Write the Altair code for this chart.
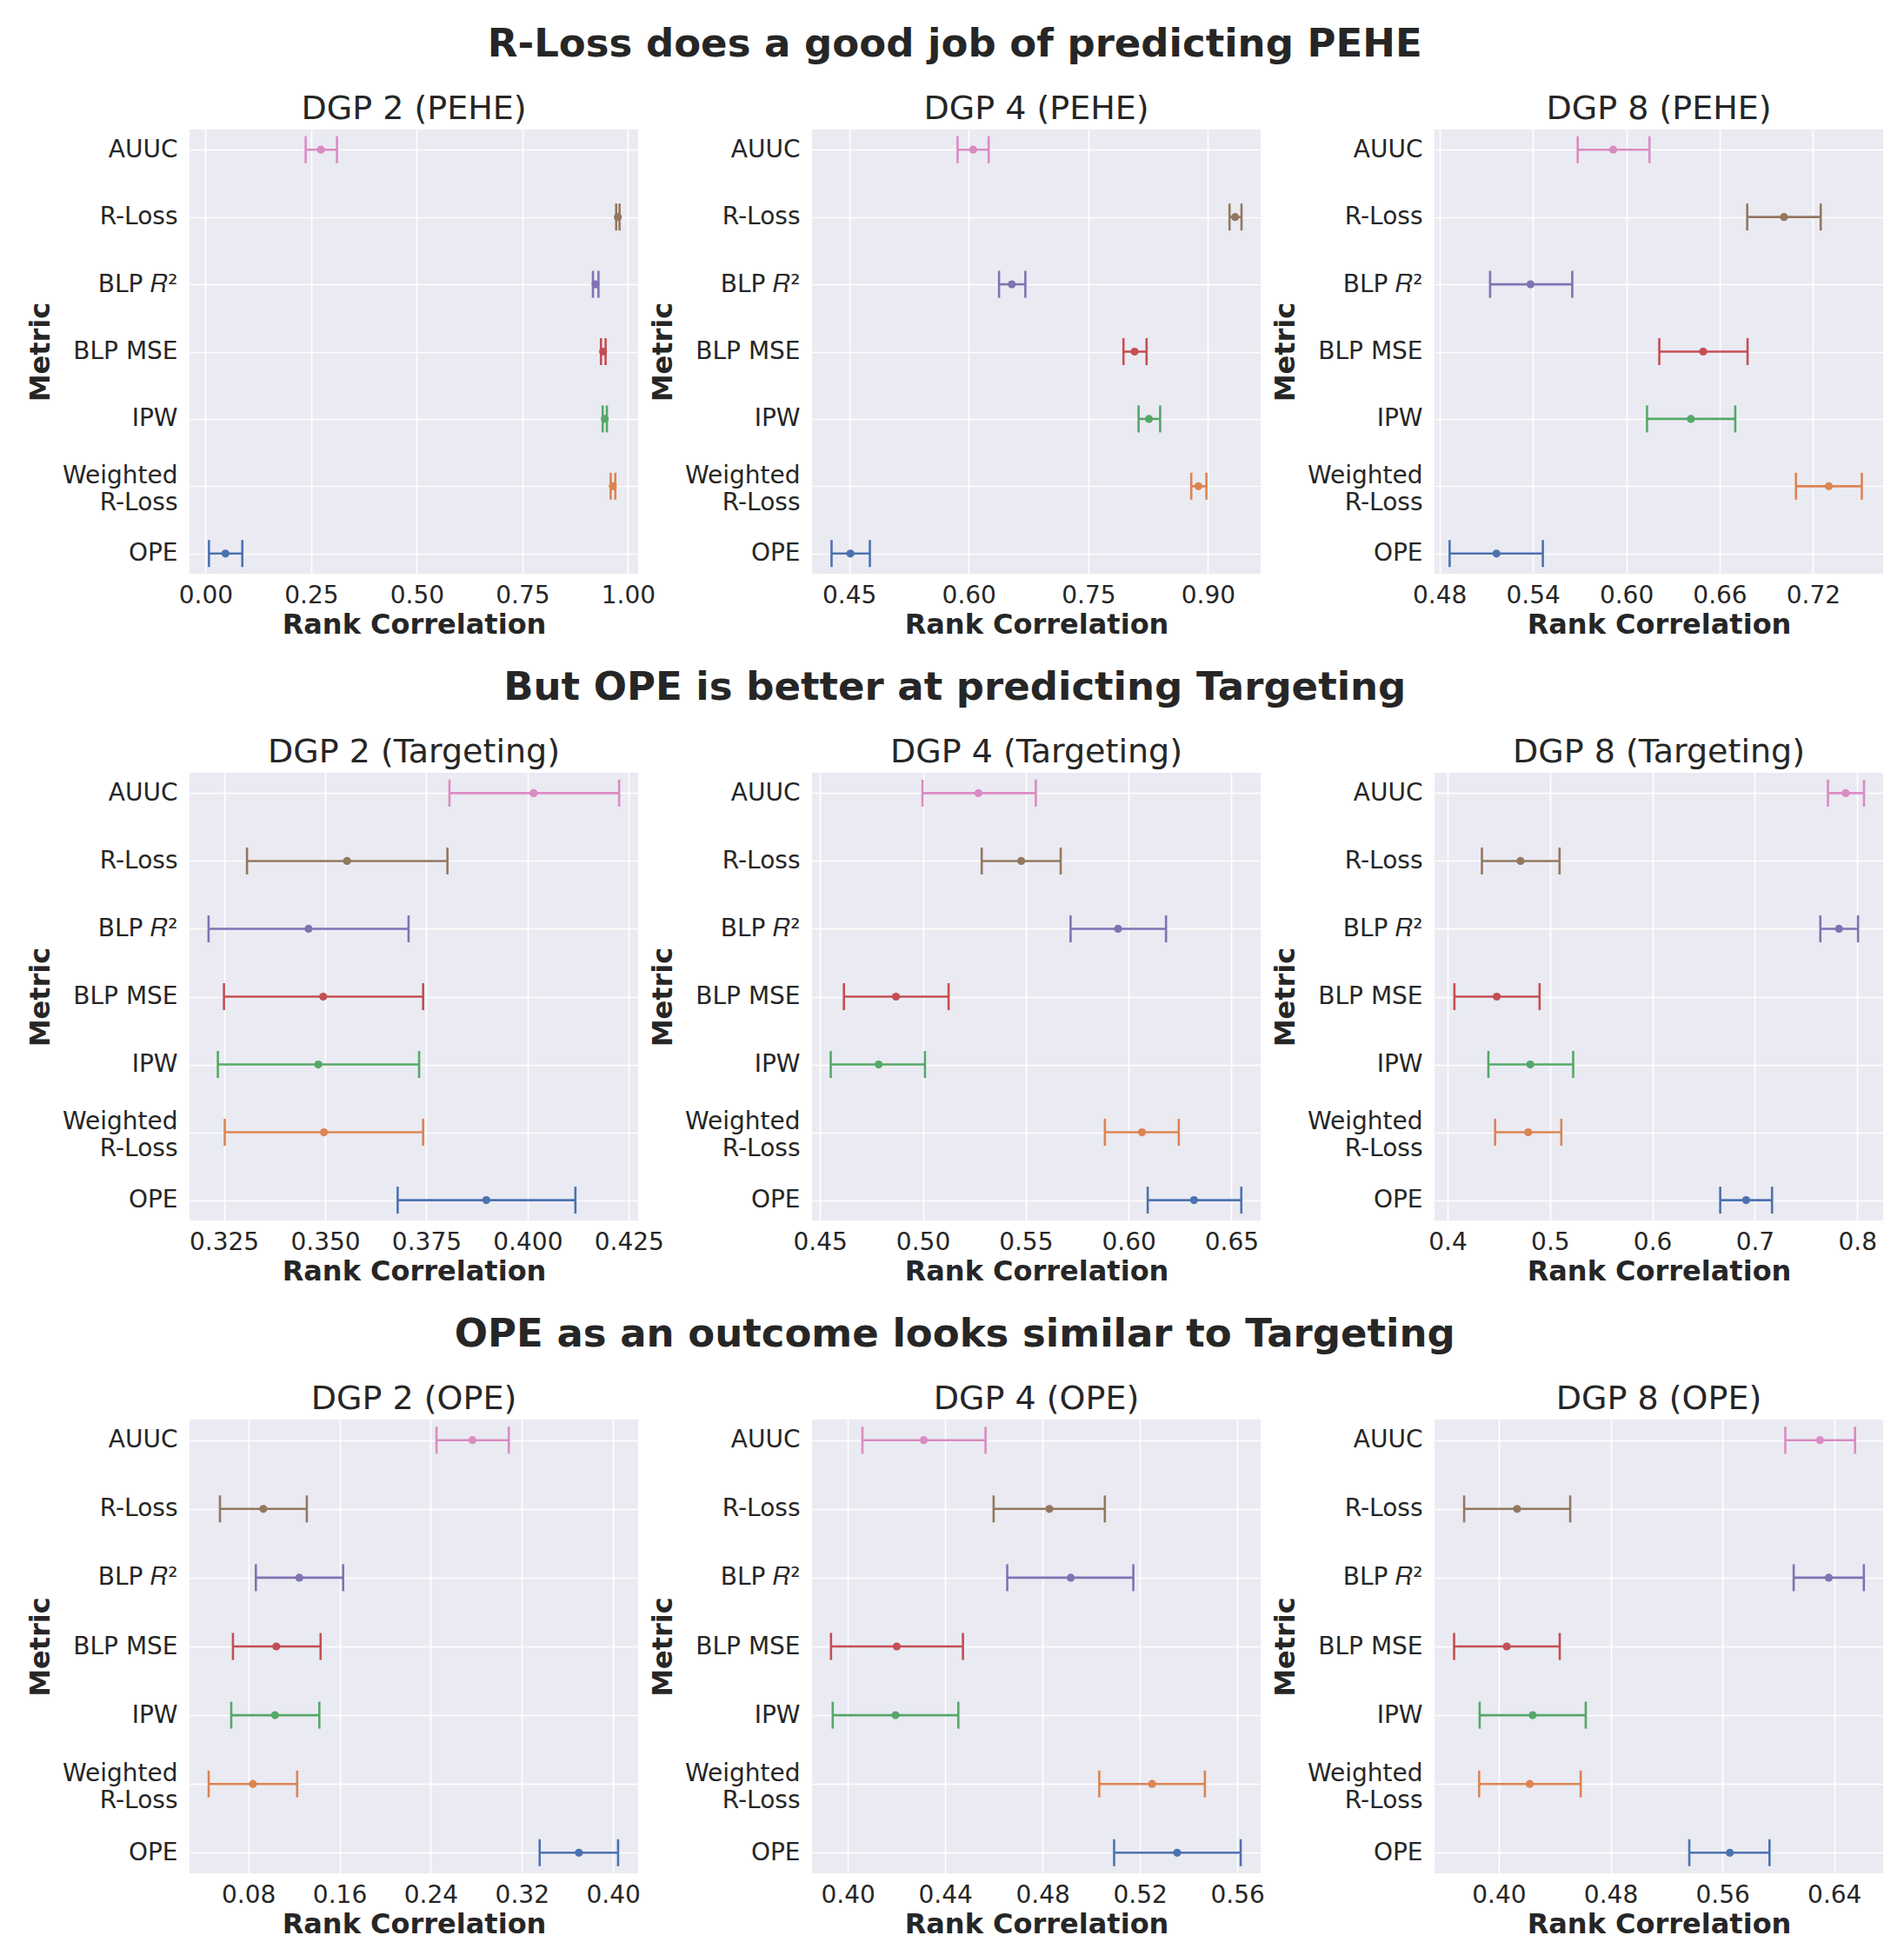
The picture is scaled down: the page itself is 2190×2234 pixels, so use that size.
import altair as alt
import pandas as pd

METRICS = ["AUUC", "R-Loss", "BLP 𝑅²", "BLP MSE", "IPW", "Weighted|R-Loss", "OPE"]
COLORS = ["#DA8BC3", "#937860", "#8172B3", "#C44E52", "#55A868", "#DD8452", "#4C72B0"]

ROW_TITLES = [
    "R-Loss does a good job of predicting PEHE",
    "But OPE is better at predicting Targeting",
    "OPE as an outcome looks similar to Targeting",
]

# ---- Row 1: PEHE ----
PEHE2_MEAN = [0.273, 0.976, 0.923, 0.941, 0.945, 0.964, 0.047]
PEHE2_LOW = [0.237, 0.972, 0.917, 0.936, 0.940, 0.959, 0.008]
PEHE2_HIGH = [0.311, 0.980, 0.930, 0.947, 0.950, 0.970, 0.087]
PEHE2_TICKS = [0.0, 0.25, 0.5, 0.75, 1.0]

PEHE4_MEAN = [0.6055, 0.934, 0.654, 0.808, 0.826, 0.888, 0.4516]
PEHE4_LOW = [0.586, 0.927, 0.638, 0.794, 0.813, 0.879, 0.428]
PEHE4_HIGH = [0.625, 0.942, 0.671, 0.823, 0.840, 0.898, 0.476]
PEHE4_TICKS = [0.45, 0.60, 0.75, 0.90]

PEHE8_MEAN = [0.5916, 0.7013, 0.5385, 0.6494, 0.6415, 0.7301, 0.5166]
PEHE8_LOW = [0.5688, 0.6777, 0.5125, 0.6212, 0.6133, 0.7090, 0.4865]
PEHE8_HIGH = [0.6149, 0.7249, 0.5653, 0.6779, 0.6700, 0.7513, 0.5464]
PEHE8_TICKS = [0.48, 0.54, 0.60, 0.66, 0.72]

# ---- Row 2: Targeting ----
TARG2_MEAN = [0.4015, 0.3554, 0.3459, 0.3495, 0.3483, 0.3497, 0.3898]
TARG2_LOW = [0.3807, 0.3307, 0.3212, 0.3250, 0.3235, 0.3252, 0.3679]
TARG2_HIGH = [0.4226, 0.3802, 0.3706, 0.3742, 0.3732, 0.3742, 0.4118]
TARG2_TICKS = [0.325, 0.350, 0.375, 0.400, 0.425]

TARG4_MEAN = [0.5270, 0.5478, 0.5949, 0.4869, 0.4785, 0.6065, 0.6318]
TARG4_LOW = [0.4998, 0.5286, 0.5718, 0.4616, 0.4552, 0.5885, 0.6093]
TARG4_HIGH = [0.5549, 0.5670, 0.6182, 0.5125, 0.5010, 0.6244, 0.6548]
TARG4_TICKS = [0.45, 0.50, 0.55, 0.60, 0.65]

TARG8_MEAN = [0.7888, 0.4712, 0.7822, 0.4480, 0.4807, 0.4787, 0.6915]
TARG8_LOW = [0.7714, 0.4335, 0.7640, 0.4066, 0.4398, 0.4464, 0.6662]
TARG8_HIGH = [0.8066, 0.5093, 0.8008, 0.4898, 0.5226, 0.5110, 0.7168]
TARG8_TICKS = [0.4, 0.5, 0.6, 0.7, 0.8]

# ---- Row 3: OPE ----
OPE2_MEAN = [0.2766, 0.0932, 0.1247, 0.1045, 0.1034, 0.0840, 0.3700]
OPE2_LOW = [0.2451, 0.0551, 0.0866, 0.0665, 0.0650, 0.0452, 0.3356]
OPE2_HIGH = [0.3085, 0.1313, 0.1632, 0.1434, 0.1423, 0.1228, 0.4044]
OPE2_TICKS = [0.08, 0.16, 0.24, 0.32, 0.40]

OPE4_MEAN = [0.4312, 0.4828, 0.4916, 0.4201, 0.4196, 0.5250, 0.5353]
OPE4_LOW = [0.4060, 0.4599, 0.4655, 0.3931, 0.3938, 0.5033, 0.5094]
OPE4_HIGH = [0.4566, 0.5056, 0.5173, 0.4473, 0.4454, 0.5467, 0.5614]
OPE4_TICKS = [0.40, 0.44, 0.48, 0.52, 0.56]

OPE8_MEAN = [0.6298, 0.4131, 0.6361, 0.4057, 0.4242, 0.4221, 0.5653]
OPE8_LOW = [0.6050, 0.3752, 0.6110, 0.3680, 0.3863, 0.3859, 0.5363]
OPE8_HIGH = [0.6549, 0.4511, 0.6612, 0.4436, 0.4622, 0.4586, 0.5937]
OPE8_TICKS = [0.40, 0.48, 0.56, 0.64]

TEXT = "#262626"
FONT = "DejaVu Sans"
PANEL_W = 516


def panel(title, mean, low, high, domain, ticks, fmt, height):
    df = pd.DataFrame({"Metric": METRICS, "mean": mean, "low": low, "high": high})
    xscale = alt.Scale(domain=domain, nice=False, zero=False)
    xaxis = alt.Axis(values=ticks, format=fmt, title="Rank Correlation")
    y = alt.Y(
        "Metric:N",
        sort=METRICS,
        scale=alt.Scale(type="point", padding=0.3),
        axis=alt.Axis(
            title="Metric",
            grid=True,
            labelExpr="split(datum.label, '|')",
            labelOffset={
                "condition": {"test": "indexof(datum.label, '|') >= 0", "value": -12},
                "value": 0,
            },
        ),
    )
    color = alt.Color("Metric:N", scale=alt.Scale(domain=METRICS, range=COLORS), legend=None)
    base = alt.Chart(df)
    rule = base.mark_rule(strokeWidth=2.6).encode(
        x=alt.X("low:Q", scale=xscale, axis=xaxis), x2="high:Q", y=y, color=color
    )
    cap_lo = base.mark_tick(thickness=2.6, size=31, opacity=1).encode(
        x=alt.X("low:Q", scale=xscale, axis=xaxis), y=y, color=color
    )
    cap_hi = base.mark_tick(thickness=2.6, size=31, opacity=1).encode(
        x=alt.X("high:Q", scale=xscale, axis=xaxis), y=y, color=color
    )
    pt = base.mark_circle(size=85, opacity=1).encode(
        x=alt.X("mean:Q", scale=xscale, axis=xaxis), y=y, color=color
    )
    return alt.layer(rule, cap_lo, cap_hi, pt).properties(
        width=PANEL_W,
        height=height,
        title=alt.TitleParams(text=title, frame="group", anchor="middle"),
    )


def row(title, panels):
    return alt.hconcat(
        *panels,
        spacing=200,
        bounds="flush",
        title=alt.TitleParams(
            text=title, fontSize=45, fontWeight="bold", anchor="middle", font=FONT, color=TEXT, offset=33
        ),
    )


row1 = row(ROW_TITLES[0], [
    panel("DGP 2 (PEHE)", PEHE2_MEAN, PEHE2_LOW, PEHE2_HIGH, [-0.038, 1.024], PEHE2_TICKS, ".2f", 511),
    panel("DGP 4 (PEHE)", PEHE4_MEAN, PEHE4_LOW, PEHE4_HIGH, [0.4035, 0.966], PEHE4_TICKS, ".2f", 511),
    panel("DGP 8 (PEHE)", PEHE8_MEAN, PEHE8_LOW, PEHE8_HIGH, [0.4768, 0.765], PEHE8_TICKS, ".2f", 511),
])
row2 = row(ROW_TITLES[1], [
    panel("DGP 2 (Targeting)", TARG2_MEAN, TARG2_LOW, TARG2_HIGH, [0.3165, 0.4273], TARG2_TICKS, ".3f", 515),
    panel("DGP 4 (Targeting)", TARG4_MEAN, TARG4_LOW, TARG4_HIGH, [0.4461, 0.6642], TARG4_TICKS, ".2f", 515),
    panel("DGP 8 (Targeting)", TARG8_MEAN, TARG8_LOW, TARG8_HIGH, [0.3872, 0.8253], TARG8_TICKS, ".1f", 515),
])
row3 = row(ROW_TITLES[2], [
    panel("DGP 2 (OPE)", OPE2_MEAN, OPE2_LOW, OPE2_HIGH, [0.0284, 0.422], OPE2_TICKS, ".2f", 522),
    panel("DGP 4 (OPE)", OPE4_MEAN, OPE4_LOW, OPE4_HIGH, [0.3853, 0.5696], OPE4_TICKS, ".2f", 522),
    panel("DGP 8 (OPE)", OPE8_MEAN, OPE8_LOW, OPE8_HIGH, [0.354, 0.675], OPE8_TICKS, ".2f", 522),
])

chart = (
    alt.vconcat(row1, row2, row3, spacing=35)
    .properties(background="white", padding={"left": 22, "top": 21, "right": 5, "bottom": 5})
    .configure_view(fill="#EAEAF2", stroke=None)
    .configure_axis(
        domain=False,
        ticks=False,
        gridColor="white",
        gridWidth=1.6,
        labelFont=FONT,
        labelFontSize=28,
        labelColor=TEXT,
        labelLineHeight=31,
        titleFont=FONT,
        titleFontSize=32,
        titleFontWeight="bold",
        titleColor=TEXT,
    )
    .configure_axisX(labelPadding=11, titlePadding=4, labelFlush=False, labelOverlap=False)
    .configure_axisY(labelPadding=14, titlePadding=8)
    .configure_title(font=FONT, fontSize=38, fontWeight="normal", color=TEXT, offset=0)
)

chart.save("out.html", embed_options={"renderer": "svg", "actions": False})
